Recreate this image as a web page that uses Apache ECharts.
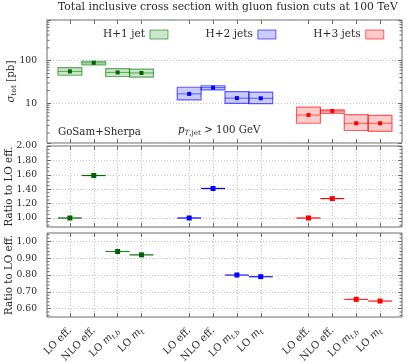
<!DOCTYPE html>
<html><head><meta charset="utf-8">
<script src="https://cdn.jsdelivr.net/npm/echarts@6/dist/echarts.min.js"></script>
<style>html,body{margin:0;padding:0;background:#fff}#c{width:407px;height:362px}</style>
</head><body><div id="c"></div>
<script>
// ---------------- data ----------------
const groups = ['H+1 jet', 'H+2 jets', 'H+3 jets'];
const categories = ['LO eff.', 'NLO eff.', 'LO m_t,b', 'LO m_t'];
// total cross sections [pb]: central value, lower and upper edge of scale band
const h1Central = [56, 89, 53, 51.5];
const h1Low     = [45.5, 80, 42.5, 41];
const h1High    = [69, 97, 65, 63.5];
const h2Central = [16.6, 23.3, 13.2, 13.1];
const h2Low     = [12.0, 20.6, 10.0, 9.8];
const h2High    = [23.8, 25.8, 18.8, 18.3];
const h3Central = [5.3, 6.6, 3.4, 3.4];
const h3Low     = [3.4, 5.8, 2.3, 2.2];
const h3High    = [8.1, 7.0, 5.4, 5.2];
// ratio to LO eff. (effective theory)  [LO eff., NLO eff.]
const h1RatioEff = [1.00, 1.59];
const h2RatioEff = [1.00, 1.41];
const h3RatioEff = [1.00, 1.27];
// ratio to LO eff. (full mass dependence)  [LO m_t,b, LO m_t]
const h1RatioMass = [0.94, 0.92];
const h2RatioMass = [0.80, 0.79];
const h3RatioMass = [0.655, 0.645];
const h1RatioMassErr = [0.003, 0.004];
const h2RatioMassErr = [0.002, 0.004];
const h3RatioMassErr = [0.002, 0.003];
// tick labels
const logTicks = [10, 100];
const ratioEffTicks = [1.00, 1.20, 1.40, 1.60, 1.80, 2.00];
const ratioMassTicks = [0.60, 0.70, 0.80, 0.90, 1.00];
const titleText = 'Total inclusive cross section with gluon fusion cuts at 100 TeV';

// ---------------- layout / style ----------------
const SERIF = '"DejaVu Serif", "Liberation Serif", serif';
const TXT = '#2a2a2a';
const FRAME = '#6a6a6a';
const GRIDC = '#c4c4c4';
const XMIN = 0.04, XMAX = 14.92;
const LOG_MIN = 1.17, LOG_MAX = 900;
const EFF_MIN = 0.875, EFF_MAX = 2.0;
const MASS_MIN = 0.55, MASS_MAX = 1.05;
const styles = [
  {mark: '#006400', stroke: 'rgba(0,128,0,0.6)', fill: 'rgba(0,128,0,0.2)', band: 'rgba(0,128,0,0.35)'},
  {mark: '#0000ff', stroke: 'rgba(0,0,255,0.6)', fill: 'rgba(0,0,255,0.2)', band: 'rgba(0,0,255,0.35)'},
  {mark: '#ff0000', stroke: 'rgba(255,0,0,0.6)', fill: 'rgba(255,0,0,0.2)', band: 'rgba(255,0,0,0.35)'}
];

// font sizes fitted to the text widths seen in the reference
const mctx = document.createElement('canvas').getContext('2d');
function fitSize(text, target, style) {
  mctx.font = (style || '') + ' 20px ' + SERIF;
  return +(20 * target / mctx.measureText(text).width).toFixed(2);
}
const TITLE_FS = fitSize(titleText, 340);
const LEG_FS = fitSize('H+1 jet', 42);
const GOSAM_FS = fitSize('GoSam+Sherpa', 83);
const TICK_FS = fitSize('2.00', 20.5);
const NAME_FS = fitSize('Ratio to LO eff.', 80);
const XLAB_FS = fitSize('NLO eff.', 43);

const xPos = (g, i) => g * 5 + i + 1;
const xTickValues = [];
for (let g = 0; g < 3; g++) for (let i = 0; i < 4; i++) xTickValues.push(xPos(g, i));

const centrals = [h1Central, h2Central, h3Central];
const lows = [h1Low, h2Low, h3Low];
const highs = [h1High, h2High, h3High];
const ratioEff = [h1RatioEff, h2RatioEff, h3RatioEff];
const ratioMass = [h1RatioMass, h2RatioMass, h3RatioMass];
const ratioMassErr = [h1RatioMassErr, h2RatioMassErr, h3RatioMassErr];

// minor tick positions (axis decoration)
const logMinor = [];
for (let d = 1; d <= 100; d *= 10) for (let k = 2; k <= 9; k++) { const v = k * d; if (v > LOG_MIN && v < LOG_MAX) logMinor.push(v); }
const effMinor = [];
for (let k = 18; k <= 39; k++) { const v = k * 0.05; if (v > EFF_MIN && v < EFF_MAX && k % 4 !== 0) effMinor.push(+v.toFixed(3)); }
const massMinor = [];
for (let k = 28; k <= 52; k++) { const v = k * 0.02; if (v > MASS_MIN && v < MASS_MAX && k % 5 !== 0) massMinor.push(+v.toFixed(3)); }

const mkRich = (fs) => {
  const sfs = +(fs * 0.7).toFixed(2);
  return {
    r: {fontFamily: SERIF, fontSize: fs, color: TXT, lineHeight: fs + 3},
    it: {fontFamily: SERIF, fontSize: fs, fontStyle: 'italic', color: TXT, lineHeight: fs + 3},
    sub: {fontFamily: SERIF, fontSize: sfs, color: TXT, lineHeight: sfs + 1, verticalAlign: 'bottom'},
    subi: {fontFamily: SERIF, fontSize: sfs, fontStyle: 'italic', color: TXT, lineHeight: sfs + 1, verticalAlign: 'bottom'}
  };
};
const richX = mkRich(XLAB_FS);
const richName = mkRich(NAME_FS);
const richP = mkRich(GOSAM_FS);
const catLabel = (c) => {
  if (c.indexOf('_') < 0) return '{r|' + c + '}';
  const parts = c.split('_');
  const head = parts[0].slice(0, -1);
  const subs = parts[1].split(',');
  return '{r|' + head + '}{it|m}{subi|' + subs[0] + '}' + (subs.length > 1 ? '{sub|,}{subi|' + subs[1] + '}' : '');
};

const grids = [
  {left: 47, top: 20, width: 355, height: 123},
  {left: 47, top: 146, width: 355, height: 81},
  {left: 47, top: 233, width: 355, height: 84}
].map(g => Object.assign(g, {show: true, borderColor: FRAME, borderWidth: 1, backgroundColor: 'transparent', containLabel: false, outerBoundsMode: 'none'}));

function xAxisFor(gi, pos, labels) {
  return {
    type: 'value', gridIndex: gi, position: pos, min: XMIN, max: XMAX,
    axisLine: {show: false},
    axisTick: {show: true, inside: true, length: 4, lineStyle: {color: FRAME}, customValues: xTickValues},
    axisLabel: labels ? {
      show: true, customValues: xTickValues, rotate: 45, margin: 12, rich: richX,
      formatter: (v) => catLabel(categories[(Math.round(v) - 1) % 5])
    } : {show: false, customValues: xTickValues},
    splitLine: {show: gi > 0 && pos === 'bottom', lineStyle: {color: GRIDC, type: [1, 2], width: 1}},
    minorTick: {show: false}
  };
}
function yAxisFor(gi, pos, cfg) {
  const ax = {
    gridIndex: gi, position: pos, min: cfg.min, max: cfg.max, type: cfg.type || 'value',
    axisLine: {show: false},
    axisTick: {show: true, inside: true, length: 4, lineStyle: {color: FRAME}},
    axisLabel: {show: pos === 'left', fontFamily: SERIF, fontSize: TICK_FS, color: TXT, margin: 10},
    splitLine: {show: pos === 'left', lineStyle: {color: GRIDC, type: [1, 2], width: 1}}
  };
  if (cfg.ticks) {
    ax.axisTick.customValues = cfg.ticks;
    ax.axisLabel.customValues = cfg.ticks;
    ax.axisLabel.formatter = (v) => v.toFixed(2);
  } else {
    ax.axisLabel.formatter = (v) => (logTicks.some(t => Math.abs(t - v) < 1e-6) ? String(Math.round(v)) : '');
  }
  if (pos === 'left' && cfg.name) {
    ax.name = cfg.name; ax.nameLocation = 'middle'; ax.nameGap = cfg.nameGap; ax.nameRotate = 90;
    ax.nameMoveOverlap = false;
    ax.nameTextStyle = {fontFamily: SERIF, fontSize: NAME_FS, color: TXT, rich: richName};
  }
  return ax;
}

const xAxes = [], yAxes = [];
const yCfg = [
  {type: 'log', min: LOG_MIN, max: LOG_MAX, name: '{it|σ}{sub|tot}{r| [pb]}', nameGap: 29},
  {min: EFF_MIN, max: EFF_MAX, ticks: ratioEffTicks, name: 'Ratio to LO eff.', nameGap: 33},
  {min: MASS_MIN, max: MASS_MAX, ticks: ratioMassTicks, name: 'Ratio to LO eff.', nameGap: 33}
];
for (let gi = 0; gi < 3; gi++) {
  xAxes.push(xAxisFor(gi, 'bottom', gi === 2));
  xAxes.push(xAxisFor(gi, 'top', false));
  yAxes.push(yAxisFor(gi, 'left', yCfg[gi]));
  yAxes.push(yAxisFor(gi, 'right', yCfg[gi]));
}

function boxRender(st) {
  return function (params, api) {
    const x = api.value(0), v = api.value(1), lo = api.value(2), hi = api.value(3);
    const p0 = api.coord([x - 0.5, hi]), p1 = api.coord([x + 0.5, lo]);
    const pl = api.coord([x - 0.5, v]), pr = api.coord([x + 0.5, v]), pc = api.coord([x, v]);
    return {type: 'group', children: [
      {type: 'rect', shape: {x: p0[0], y: p0[1], width: p1[0] - p0[0], height: p1[1] - p0[1]}, style: {fill: st.fill, stroke: st.stroke, lineWidth: 1.2}},
      {type: 'line', shape: {x1: pl[0], y1: pl[1], x2: pr[0], y2: pr[1]}, style: {stroke: st.stroke, lineWidth: 1}},
      {type: 'rect', shape: {x: pc[0] - 2, y: pc[1] - 2, width: 4, height: 4}, style: {fill: st.mark}}
    ]};
  };
}
function ratioRender(st) {
  return function (params, api) {
    const x = api.value(0), v = api.value(1), e = api.value(2);
    const pl = api.coord([x - 0.5, v]), pr = api.coord([x + 0.5, v]), pc = api.coord([x, v]);
    const b0 = api.coord([x - 0.5, v + e]), b1 = api.coord([x + 0.5, v - e]);
    const children = [];
    if (e > 0) children.push({type: 'rect', shape: {x: b0[0], y: b0[1], width: b1[0] - b0[0], height: Math.max(1, b1[1] - b0[1])}, style: {fill: st.band}});
    children.push({type: 'line', shape: {x1: pl[0], y1: pl[1], x2: pr[0], y2: pr[1]}, style: {stroke: st.mark, lineWidth: 1.2, opacity: e > 0 ? 0.75 : 1}});
    children.push({type: 'rect', shape: {x: pc[0] - 2.5, y: pc[1] - 2.5, width: 5, height: 5}, style: {fill: st.mark}});
    return {type: 'group', children: children};
  };
}
function minorRender(xMin, xMax) {
  return function (params, api) {
    const v = api.value(0);
    const l = api.coord([xMin, v]), r = api.coord([xMax, v]);
    return {type: 'group', children: [
      {type: 'line', shape: {x1: l[0], y1: l[1], x2: l[0] + 2.5, y2: l[1]}, style: {stroke: FRAME, lineWidth: 1}},
      {type: 'line', shape: {x1: r[0], y1: r[1], x2: r[0] - 2.5, y2: r[1]}, style: {stroke: FRAME, lineWidth: 1}}
    ]};
  };
}

const series = [];
for (let g = 0; g < 3; g++) {
  series.push({
    name: groups[g], type: 'custom', xAxisIndex: 0, yAxisIndex: 0, clip: false,
    renderItem: boxRender(styles[g]), encode: {x: 0, y: [1, 2, 3]},
    data: centrals[g].map((v, i) => [xPos(g, i), v, lows[g][i], highs[g][i]])
  });
  series.push({
    name: groups[g] + ' eff', type: 'custom', xAxisIndex: 2, yAxisIndex: 2, clip: false,
    renderItem: ratioRender(styles[g]), encode: {x: 0, y: 1},
    data: ratioEff[g].map((v, i) => [xPos(g, i), v, 0])
  });
  series.push({
    name: groups[g] + ' mass', type: 'custom', xAxisIndex: 4, yAxisIndex: 4, clip: false,
    renderItem: ratioRender(styles[g]), encode: {x: 0, y: 1},
    data: ratioMass[g].map((v, i) => [xPos(g, i + 2), v, ratioMassErr[g][i]])
  });
}
[[logMinor, 0], [effMinor, 1], [massMinor, 2]].forEach(([vals, gi]) => {
  series.push({
    name: 'minor' + gi, type: 'custom', xAxisIndex: gi * 2, yAxisIndex: gi * 2, clip: false, silent: true,
    renderItem: minorRender(XMIN, XMAX), encode: {x: 1, y: 0},
    data: vals.map(v => [v, XMIN])
  });
});

const legendStroke = ['rgba(0,128,0,0.6)', 'rgba(0,0,255,0.6)', 'rgba(255,0,0,0.6)'];
const option = {
  animation: false,
  backgroundColor: '#fff',
  title: {
    text: titleText, left: 58, top: 2, padding: 0,
    textStyle: {fontFamily: SERIF, fontSize: TITLE_FS, fontWeight: 'normal', color: TXT}
  },
  legend: {
    left: 103, top: 29, padding: 0, align: 'right', itemGap: 37, itemWidth: 18, itemHeight: 9,
    selectedMode: false, width: 300,
    textStyle: {fontFamily: SERIF, fontSize: LEG_FS, color: TXT},
    data: groups.map((n, g) => ({name: n, icon: 'rect', itemStyle: {color: styles[g].fill, borderColor: legendStroke[g], borderWidth: 1}}))
  },
  graphic: [
    {type: 'text', left: 58, top: 127, style: {text: 'GoSam+Sherpa', font: GOSAM_FS + 'px ' + SERIF, fill: TXT}},
    {type: 'text', left: 178, top: 125, style: {
      text: '{it|p}{subi|T}{sub|,jet}{r| > 100 GeV}', rich: richP, fill: TXT}}
  ],
  grid: grids,
  xAxis: xAxes,
  yAxis: yAxes,
  series: series
};
const chart = echarts.init(document.getElementById('c'));
chart.setOption(option);
</script>
</body></html>
